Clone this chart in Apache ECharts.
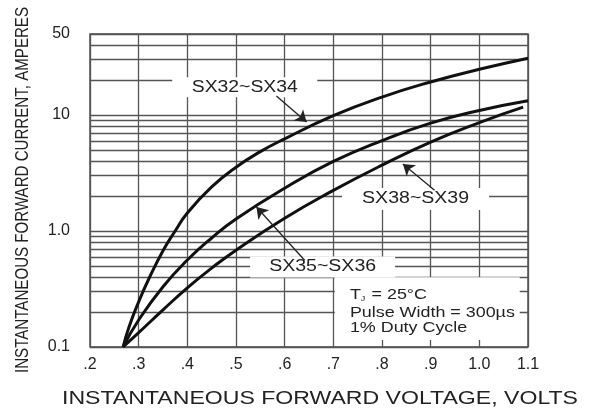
<!DOCTYPE html>
<html>
<head>
<meta charset="utf-8">
<script src="https://cdn.jsdelivr.net/npm/echarts@6/dist/echarts.min.js"></script>
<style>
  html, body { margin: 0; background: #fff; }
  #chart { width: 594px; height: 410px; }
</style>
</head>
<body>
<div id="chart"></div>
<script>
// forward curves, volts vs amps
const sx32Volts = [0.268, 0.28, 0.30, 0.32, 0.35, 0.375, 0.40, 0.45, 0.50, 0.55, 0.60, 0.70, 0.80, 0.90, 1.00, 1.10];
const sx32Amps  = [0.10, 0.148, 0.245, 0.38, 0.676, 1.0, 1.43, 2.4, 3.55, 4.84, 6.24, 9.89, 14.3, 19.3, 24.8, 30.9];
const sx35Volts = [0.268, 0.30, 0.35, 0.40, 0.45, 0.50, 0.60, 0.70, 0.80, 0.90, 1.00, 1.10];
const sx35Amps  = [0.10, 0.171, 0.331, 0.562, 0.871, 1.27, 2.34, 3.98, 6.03, 8.51, 10.96, 13.3];
const sx38Volts = [0.268, 0.30, 0.35, 0.40, 0.45, 0.50, 0.60, 0.70, 0.80, 0.90, 1.00, 1.09];
const sx38Amps  = [0.10, 0.133, 0.209, 0.324, 0.479, 0.684, 1.29, 2.24, 3.70, 5.85, 8.61, 11.7];

// log paper lines
const minorAmps = [0.2, 0.3, 0.4, 0.5, 0.6, 0.7, 0.8, 0.9, 2, 3, 4, 5, 6, 7, 8, 9, 20, 30, 40];
const labelAmps = [0.1, 1, 10, 50];
const labelText = ['0.1', '1.0', '10', '50'];

// annotations: [volts, amps] anchors
const curveLabels = [
  { text: 'SX32~SX34', at: [0.518, 17.4], box: [145, 20], width: 106 },
  { text: 'SX38~SX39', at: [0.869, 1.89], box: [147, 22], width: 107 },
  { text: 'SX35~SX36', at: [0.678, 0.49], box: [145, 21], width: 107 }
];
const arrows = [
  [[0.583, 14.6], [0.645, 8.7]],
  [[0.908, 2.25], [0.843, 3.79]],
  [[0.641, 0.56], [0.542, 1.61]]
];
const noteBox = [[0.703, 0.40], [1.083, 0.115]];
const noteAnchor = [0.734, [0.28, 0.196, 0.146]];

const FONT = '"Liberation Sans", Arial, sans-serif';
const INK = '#222';
const GRID = '#555';

const zip = (xs, ys) => xs.map((x, i) => [x, ys[i]]);

const chart = echarts.init(document.getElementById('chart'));

const curve = (name, xs, ys) => ({
  name: name,
  type: 'line',
  data: zip(xs, ys),
  smooth: 0.5,
  showSymbol: false,
  z: 4,
  lineStyle: { color: '#111', width: 3 }
});

const gridLines = minorAmps.map(v => ({ yAxis: v }))
  .concat(labelAmps.map((v, i) => ({
    yAxis: v,
    label: {
      show: true, position: 'start', distance: 20, formatter: labelText[i],
      fontSize: 16, color: INK, fontFamily: FONT
    }
  })));

chart.setOption({
  animation: false,
  grid: {
    left: 90, right: 66, top: 34, bottom: 63,
    show: true, borderColor: '#444', borderWidth: 1.4
  },
  xAxis: {
    type: 'value', min: 0.2, max: 1.1, interval: 0.1,
    axisLine: { show: false },
    axisTick: { show: false },
    splitLine: { show: true, lineStyle: { color: GRID, width: 1.3 } },
    axisLabel: {
      fontSize: 16, color: INK, fontFamily: FONT, margin: 10,
      formatter: v => {
        const s = v.toFixed(1);
        return v < 1 ? s.slice(1) : s;
      }
    }
  },
  yAxis: {
    type: 'log', logBase: 10, min: 0.1, max: 50,
    axisLine: { show: false },
    axisTick: { show: false },
    axisLabel: { show: false },
    splitLine: { show: false }
  },
  series: [
    {
      name: 'paper', type: 'line', data: [], silent: true,
      markLine: {
        silent: true, symbol: 'none', z: 1, animation: false,
        label: { show: false },
        lineStyle: { color: GRID, width: 1.3, type: 'solid' },
        data: gridLines
      }
    },
    curve('SX32~SX34', sx32Volts, sx32Amps),
    curve('SX35~SX36', sx35Volts, sx35Amps),
    curve('SX38~SX39', sx38Volts, sx38Amps),
    {
      name: 'arrows', type: 'line', data: [], silent: true,
      markLine: {
        silent: true, z: 10, animation: false,
        symbol: ['none', 'arrow'], symbolSize: 11,
        label: { show: false },
        itemStyle: { color: INK },
        lineStyle: { color: INK, width: 1.3, type: 'solid' },
        data: arrows.map(a => [{ coord: a[0] }, { coord: a[1] }])
      }
    }
  ]
});

// stretch text to the width it has on the sheet
const ctx = document.createElement('canvas').getContext('2d');
const fit = (text, size, target) => {
  ctx.font = size + 'px ' + FONT;
  return target / ctx.measureText(text).width;
};
const px = p => chart.convertToPixel({ seriesIndex: 1 }, p);

const graphic = [];
curveLabels.forEach(l => {
  const c = px(l.at);
  graphic.push({
    type: 'rect', silent: true, z: 3,
    x: c[0] - l.box[0] / 2, y: c[1] - l.box[1] / 2,
    shape: { width: l.box[0], height: l.box[1] },
    style: { fill: '#fff' }
  });
  graphic.push({
    type: 'text', silent: true, z: 6,
    x: c[0], y: c[1], scaleX: fit(l.text, 16, l.width),
    style: { text: l.text, fontSize: 16, fontFamily: FONT, fill: INK, align: 'center', verticalAlign: 'middle' }
  });
});

const b0 = px(noteBox[0]);
const b1 = px(noteBox[1]);
graphic.push({
  type: 'rect', silent: true, z: 3,
  x: b0[0], y: b0[1],
  shape: { width: b1[0] - b0[0], height: b1[1] - b0[1] },
  style: { fill: '#fff' }
});
const noteScale = fit('Pulse Width = 300µs', 14, 165);
const noteLines = ['{t|T}{s|J}{t| = 25°C}', '{t|Pulse Width = 300µs}', '{t|1% Duty Cycle}'];
noteLines.forEach((t, i) => {
  const p = px([noteAnchor[0], noteAnchor[1][i]]);
  graphic.push({
    type: 'text', silent: true, z: 6,
    x: p[0], y: p[1], scaleX: noteScale,
    style: {
      text: t, align: 'left', verticalAlign: 'middle',
      rich: {
        t: { fontSize: 14, fontFamily: FONT, fill: INK },
        s: { fontSize: 7, fontFamily: FONT, fill: INK, verticalAlign: 'bottom', padding: [6, 1, 0, 0] }
      }
    }
  });
});

// axis titles
const xTitle = 'INSTANTANEOUS FORWARD VOLTAGE, VOLTS';
const yTitle = 'INSTANTANEOUS FORWARD CURRENT, AMPERES';
graphic.push({
  type: 'text', silent: true, z: 6,
  x: 320, y: 399, scaleX: fit(xTitle, 18, 516),
  style: { text: xTitle, fontSize: 18, fontFamily: FONT, fill: INK, align: 'center', verticalAlign: 'middle' }
});
graphic.push({
  type: 'text', silent: true, z: 6,
  x: 23, y: 190, rotation: Math.PI / 2, scaleX: fit(yTitle, 19, 366),
  style: { text: yTitle, fontSize: 19, fontFamily: FONT, fill: INK, align: 'center', verticalAlign: 'middle' }
});

chart.setOption({ graphic: graphic });
</script>
</body>
</html>
